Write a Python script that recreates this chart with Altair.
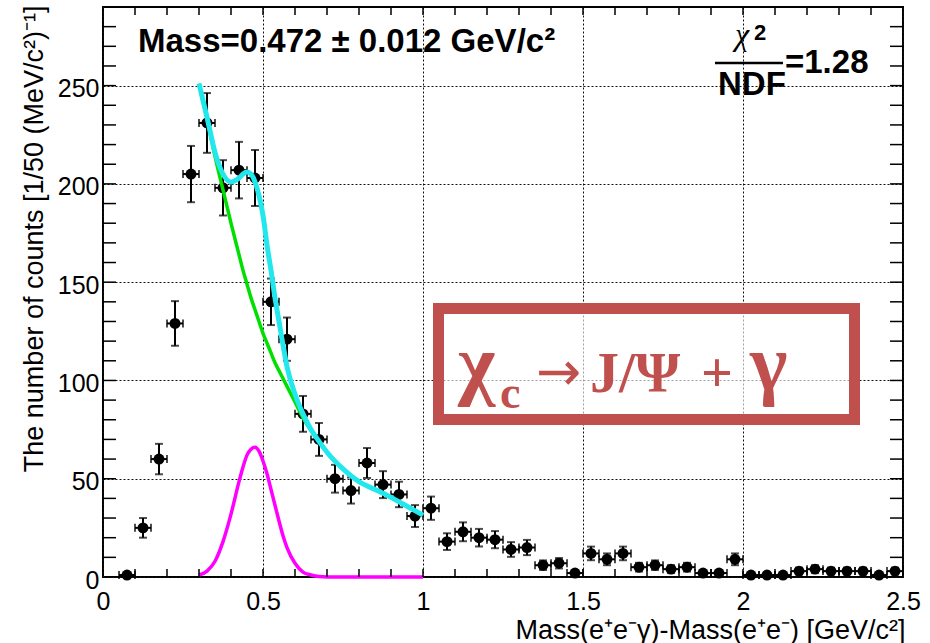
import altair as alt
import numpy as np
import pandas as pd

# Histogram: bin centres [GeV/c^2] and counts per 50 MeV/c^2 bin
bin_center = [0.075, 0.125, 0.175, 0.225, 0.275, 0.325, 0.375, 0.425, 0.475, 0.525,
              0.575, 0.625, 0.675, 0.725, 0.775, 0.825, 0.875, 0.925, 0.975, 1.025,
              1.075, 1.125, 1.175, 1.225, 1.275, 1.325, 1.375, 1.425, 1.475, 1.525,
              1.575, 1.625, 1.675, 1.725, 1.775, 1.825, 1.875, 1.925, 1.975, 2.025,
              2.075, 2.125, 2.175, 2.225, 2.275, 2.325, 2.375, 2.425, 2.475]
counts = [1, 25, 60, 129, 205, 231, 198, 207, 203, 140,
          121, 83, 70, 50, 44, 58, 47, 42, 31, 35,
          18, 23, 20, 19, 14, 15, 6, 7, 2, 12,
          9, 12, 5, 6, 4, 5, 2, 2, 9, 1,
          1, 1, 3, 4, 3, 3, 3, 1, 3]
bin_half = 0.025

# Fit curves sampled along the fit range
fit_x = [0.300, 0.325, 0.350, 0.375, 0.400, 0.425, 0.4375, 0.450, 0.4625, 0.475,
         0.4875, 0.500, 0.5125, 0.525, 0.5375, 0.550, 0.5625, 0.575, 0.600, 0.625,
         0.650, 0.675, 0.700, 0.750, 0.800, 0.850, 0.900, 0.950, 1.000]
fit_total = [251, 234, 216, 205, 201, 203, 205, 206, 205, 201,
             194, 184, 169, 156, 142, 130, 118, 107, 93, 83,
             75, 69, 63.5, 55, 48.5, 44.5, 40.5, 36, 31.5]
fit_background = [251, 233, 214, 197, 180, 164, 156, 149, 142, 136,
                  130, 124, 119, 114, 109, 105, 101, 97, 89, 81,
                  74.5, 69, 63.5, 55, 48.5, 44.5, 40.5, 36, 31.5]
fit_signal = [1, 3, 8, 18, 32, 48.5, 56, 62, 65, 66,
              64, 59, 52.5, 44.5, 36.5, 28.5, 21, 15, 7, 2.5,
              1, 0.2, 0, 0, 0, 0, 0, 0, 0]

# Axis tick values
x_label_values = [0, 0.5, 1, 1.5, 2, 2.5]
y_label_values = [0, 50, 100, 150, 200, 250]
x_minor_ticks = [round(0.1 * i, 1) for i in range(1, 25)]
y_minor_ticks = list(range(10, 290, 10))

W, H = 800, 570
SANS = "Liberation Sans"
SERIF = "Liberation Serif"
RED = "#C0504D"

xs = alt.Scale(domain=[0, 2.5], nice=False, zero=False)
ys = alt.Scale(domain=[0, 290], nice=False, zero=False)

hist = pd.DataFrame({"x": bin_center, "n": counts})
err = np.sqrt(hist["n"])
hist["lo"] = hist["n"] - err
hist["hi"] = hist["n"] + err
hist["xlo"] = hist["x"] - bin_half
hist["xhi"] = hist["x"] + bin_half

fits = pd.DataFrame({"x": fit_x, "total": fit_total,
                     "bkg": fit_background, "sig": fit_signal})

x_axis = alt.Axis(values=x_label_values, format="~g", grid=True, gridDash=[2, 2],
                  gridColor="#111111", gridWidth=1, ticks=False, domain=False,
                  labelFont=SANS, labelFontSize=25, labelColor="black",
                  labelPadding=12, labelFlush=False,
                  title="Mass(e⁺e⁻γ)-Mass(e⁺e⁻) [GeV/c²]", titleFont=SANS,
                  titleFontSize=27, titleFontWeight="normal", titleColor="black",
                  titleX=W + 2, titleY=61, titleAlign="right", titleBaseline="alphabetic")
y_axis = alt.Axis(values=y_label_values, grid=True, gridDash=[2, 2],
                  gridColor="#111111", gridWidth=1, ticks=False, domain=False,
                  labelFont=SANS, labelFontSize=25, labelColor="black",
                  labelPadding=4, labelOffset=3, labelFlush=False,
                  title="The number of counts [1/50 (MeV/c²)⁻¹]", titleFont=SANS,
                  titleFontSize=27, titleFontWeight="normal", titleColor="black",
                  titleAngle=270, titleX=-61, titleY=-2, titleAlign="right",
                  titleBaseline="alphabetic")


def X(field):
    return alt.X(field, scale=xs, axis=x_axis)


def Y(field):
    return alt.Y(field, scale=ys, axis=y_axis)


base = alt.Chart(hist)

points = base.mark_circle(size=120, color="black", opacity=1).encode(
    x=X("x:Q"), y=Y("n:Q"))
vbars = base.mark_errorbar(ticks=True, thickness=2, size=8, color="black").encode(
    x=X("x:Q"), y=Y("lo:Q"), y2="hi:Q")
hbars = base.mark_errorbar(ticks=True, thickness=2, size=8, color="black").encode(
    y=Y("n:Q"), x=X("xlo:Q"), x2="xhi:Q")


def fit_line(col, color, width):
    return alt.Chart(fits).mark_line(color=color, strokeWidth=width,
                                     interpolate="monotone").encode(
        x=X("x:Q"), y=Y(f"{col}:Q"))


bkg_line = fit_line("bkg", "#00E000", 3.5)
total_line = fit_line("total", "#22E8EE", 5)
sig_line = fit_line("sig", "#FF00FF", 3.5)

# Inward-pointing ticks on all four sides of the frame
yt = pd.DataFrame({"v": y_minor_ticks})
xt = pd.DataFrame({"v": x_minor_ticks})
tick_style = dict(color="black", strokeWidth=1.5)
left_ticks = alt.Chart(yt).mark_rule(**tick_style).encode(
    y=Y("v:Q"), x=alt.value(0), x2=alt.value(13))
right_ticks = alt.Chart(yt).mark_rule(**tick_style).encode(
    y=Y("v:Q"), x=alt.value(W - 13), x2=alt.value(W))
bottom_ticks = alt.Chart(xt).mark_rule(**tick_style).encode(
    x=X("v:Q"), y=alt.value(H - 8), y2=alt.value(H))
top_ticks = alt.Chart(xt).mark_rule(**tick_style).encode(
    x=X("v:Q"), y=alt.value(0), y2=alt.value(8))

one = pd.DataFrame({"k": [0]})


def label(text, x, y, size, font=SANS, weight="bold", style="normal",
          color="black", align="left"):
    return alt.Chart(one).mark_text(
        text=text, font=font, fontSize=size, fontWeight=weight, fontStyle=style,
        color=color, align=align, baseline="alphabetic",
    ).encode(x=alt.value(x), y=alt.value(y))


header = label("Mass=0.472 ± 0.012 GeV/c²", 35, 45, 33)
chi_sym = label("χ", 632, 38, 32, font=SERIF, weight="normal", style="italic")
chi_pow = label("2", 651, 33, 22)
frac_bar = alt.Chart(one).mark_rule(color="black", strokeWidth=2.5).encode(
    x=alt.value(612), x2=alt.value(680), y=alt.value(56))
ndf = label("NDF", 615, 88, 33)
chi_val = label("=1.28", 682, 66, 33)

# Boxed decay label
box = alt.Chart(one).mark_rect(fill="white", fillOpacity=0.6, stroke=RED,
                               strokeWidth=11).encode(
    x=alt.value(335.5), x2=alt.value(751.5), y=alt.value(301.5), y2=alt.value(412.5))
d_chi = label("χ", 355, 383, 80, font=SERIF, color=RED)
d_c = label("c", 397, 401, 46, font=SERIF, color=RED)
d_arrow = label("→", 433, 383, 54, font="DejaVu Sans", weight="normal", color=RED)
d_jpsi = label("J/Ψ", 487, 385, 58, font=SERIF, color=RED)
d_plus = label("+", 614, 385, 56, font=SERIF, color=RED, align="center")
d_gamma = label("γ", 647, 383, 80, font=SERIF, color=RED)

chart = alt.layer(
    points, vbars, hbars, bkg_line, total_line, sig_line,
    left_ticks, right_ticks, bottom_ticks, top_ticks,
    header, chi_sym, chi_pow, frac_bar, ndf, chi_val,
    box, d_chi, d_c, d_arrow, d_jpsi, d_plus, d_gamma,
).properties(
    width=W, height=H,
    autosize=alt.AutoSizeParams(type="none"),
    padding={"left": 103, "top": 7, "right": 27, "bottom": 66},
    background="white",
).configure_view(stroke="black", strokeWidth=2)

chart.save("out.html", embed_options={"renderer": "svg", "actions": False})
